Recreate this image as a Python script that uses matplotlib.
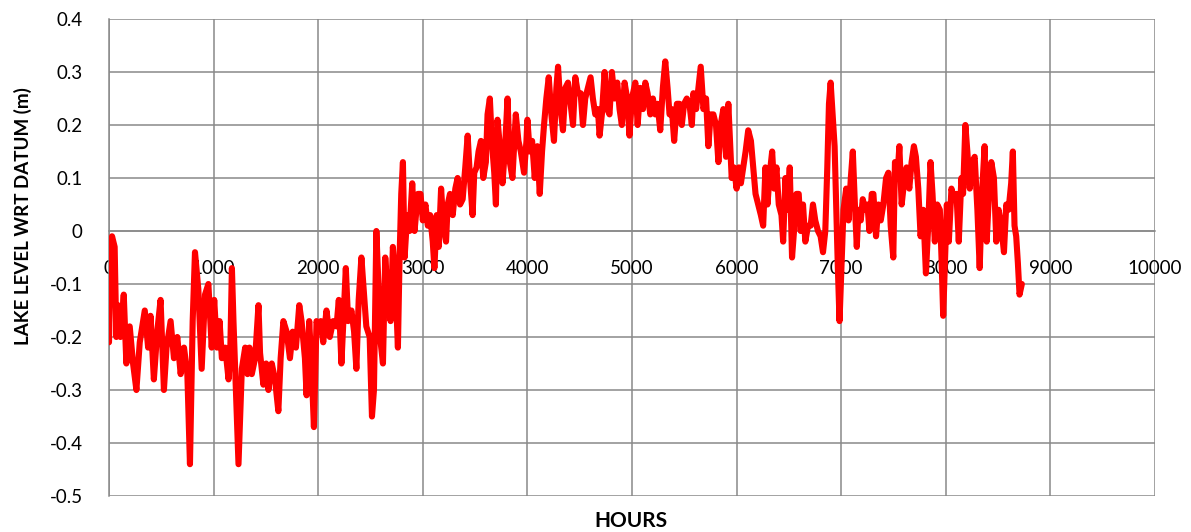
import matplotlib
matplotlib.use("Agg")
import matplotlib.pyplot as plt

plt.rcParams['font.family'] = ['Lato', 'DejaVu Sans']

# hourly lake level (hours, metres w.r.t. datum)
hours_a = [0, 15, 29, 54, 70, 86, 109, 141, 166, 198, 230, 262, 294, 342, 374, 397, 429, 461,
           493, 525, 550, 589, 621, 653, 685, 717, 749, 774, 800, 822, 854, 886, 918, 950, 982,
           1006, 1032, 1057, 1079, 1111, 1143, 1159, 1175, 1190, 1222, 1238, 1270, 1302, 1324,
           1343, 1365, 1397, 1429, 1444, 1476, 1502, 1524, 1556, 1587, 1619, 1641, 1667, 1698,
           1730, 1756, 1787, 1819, 1841, 1873, 1889, 1914, 1937, 1959, 1984]
level_a = [-0.21, -0.05, -0.01, -0.03, -0.20, -0.14, -0.20, -0.12, -0.25, -0.18, -0.25, -0.30,
           -0.21, -0.15, -0.22, -0.16, -0.28, -0.19, -0.13, -0.30, -0.22, -0.17, -0.24, -0.20,
           -0.27, -0.22, -0.27, -0.44, -0.17, -0.04, -0.11, -0.26, -0.12, -0.10, -0.22,
           -0.13, -0.22, -0.17, -0.24, -0.22, -0.28, -0.23, -0.07, -0.17, -0.35, -0.44, -0.26,
           -0.22, -0.27, -0.22, -0.27, -0.24, -0.14, -0.23, -0.29, -0.25, -0.30, -0.25, -0.28,
           -0.34, -0.24, -0.17, -0.19, -0.24, -0.19, -0.22, -0.14, -0.17, -0.24, -0.31, -0.17,
           -0.26, -0.37, -0.17]

hours_b = [2000, 2025, 2048, 2079, 2111, 2143, 2175, 2197, 2222, 2238, 2264, 2286, 2318, 2343,
           2365, 2387, 2413, 2438, 2460, 2492, 2514, 2533, 2556, 2578, 2597, 2619, 2641, 2667,
           2692, 2714, 2737, 2762, 2778, 2794, 2810, 2826, 2851, 2873, 2899, 2921, 2953, 2978,
           3000, 3025, 3048, 3070, 3095, 3111, 3133, 3152, 3175, 3197, 3222, 3238, 3260, 3286,
           3311, 3333, 3356, 3381, 3406, 3429, 3451, 3476, 3492, 3514, 3533, 3556, 3578, 3603,
           3619, 3641, 3660, 3683, 3699, 3714, 3737, 3762, 3787, 3810, 3832, 3857, 3889, 3914,
           3937, 3968, 3991]
level_b = [-0.18, -0.17, -0.21, -0.15, -0.20, -0.17, -0.18, -0.13, -0.25, -0.18, -0.07, -0.17,
           -0.15, -0.19, -0.26, -0.13, -0.05, -0.12, -0.18, -0.20, -0.35, -0.30, 0.00, -0.11,
           -0.21, -0.25, -0.05, -0.13, -0.17, -0.03, -0.09, -0.22, -0.05, 0.07, 0.13, -0.05,
           0.03, 0.00, 0.09, 0.00, 0.07, 0.07,
           0.02, 0.05, 0.01, 0.03, -0.02, -0.07, 0.03, -0.03, 0.08, 0.01, -0.02, 0.05, 0.07,
           0.03, 0.08, 0.10, 0.05, 0.06, 0.12, 0.18, 0.10, 0.03, 0.11, 0.12, 0.15, 0.17, 0.10,
           0.13, 0.22, 0.25, 0.17, 0.11, 0.05, 0.21, 0.16, 0.09, 0.16, 0.25, 0.13, 0.10, 0.22,
           0.17, 0.15, 0.11, 0.17]

hours_c = [4000, 4022, 4045, 4070, 4095, 4118, 4140, 4159, 4181, 4204, 4229, 4254, 4277, 4293,
           4318, 4340, 4363, 4388, 4413, 4436, 4458, 4483, 4509, 4531, 4553, 4579, 4604, 4626,
           4649, 4674, 4690, 4712, 4738, 4763, 4785, 4808, 4833, 4859, 4881, 4903, 4929, 4954,
           4976, 4999, 5010, 5032, 5054, 5079, 5105, 5127, 5149, 5175, 5200, 5222, 5244, 5270,
           5295, 5318, 5340, 5359, 5381, 5403, 5429, 5454, 5476, 5498, 5524, 5549, 5572, 5587,
           5613, 5635, 5657, 5683, 5708, 5730, 5752, 5778, 5803, 5826, 5848, 5873, 5899, 5921,
           5937, 5953, 5975]
level_c = [0.21, 0.15, 0.17, 0.10, 0.16, 0.07, 0.15, 0.20, 0.25, 0.29, 0.22, 0.17, 0.27, 0.31,
           0.23, 0.19, 0.27, 0.28, 0.24, 0.20, 0.29, 0.26, 0.26, 0.20, 0.25, 0.27, 0.29, 0.25,
           0.22, 0.23, 0.18, 0.22, 0.30, 0.23, 0.22, 0.30, 0.25, 0.28, 0.23, 0.20, 0.28, 0.25,
           0.18, 0.25, 0.26, 0.28, 0.20, 0.27, 0.23, 0.28, 0.26, 0.22, 0.25, 0.22, 0.24, 0.19,
           0.27, 0.32, 0.27, 0.22, 0.23, 0.17, 0.24, 0.24, 0.20, 0.24, 0.25, 0.24, 0.20, 0.26,
           0.23, 0.27, 0.31, 0.23, 0.25, 0.16, 0.22, 0.22, 0.20, 0.13, 0.20, 0.23, 0.14, 0.24,
           0.17, 0.10, 0.12]

hours_d = [6000, 6022, 6041, 6064, 6086, 6111, 6137, 6159, 6181, 6206, 6232, 6254, 6276, 6295,
           6318, 6340, 6359, 6381, 6403, 6429, 6445, 6467, 6486, 6508, 6530, 6549, 6572, 6594,
           6613, 6635, 6657, 6683, 6708, 6730, 6752, 6778, 6803, 6826, 6848, 6867, 6883, 6899,
           6921, 6937, 6953, 6968, 6984, 7022, 7048, 7070, 7092, 7111, 7133, 7149, 7165, 7187,
           7206, 7229, 7251, 7270, 7292, 7308, 7333, 7356, 7378, 7403, 7429, 7451, 7473, 7498,
           7514, 7537, 7556, 7578, 7600, 7625, 7651, 7673, 7695, 7714, 7737, 7759, 7784, 7810,
           7832, 7854, 7873, 7895, 7918, 7943, 7959, 7975]
level_d = [0.08, 0.12, 0.09, 0.12, 0.15, 0.19, 0.17, 0.12, 0.07, 0.05, 0.03, 0.01, 0.12, 0.05,
           0.11, 0.15, 0.08, 0.12, 0.05, 0.03, -0.02, 0.10, 0.04, 0.12, -0.05, 0.00, 0.07, 0.07,
           0.00, 0.05, -0.02, 0.01, 0.01, 0.05, 0.02, 0.00, -0.01, -0.04, 0.00, 0.12, 0.24, 0.28,
           0.21, 0.16, 0.04, -0.07, -0.17, 0.04, 0.08, 0.02, 0.10, 0.15, 0.04, -0.03, 0.04, 0.02,
           0.06, 0.04, 0.05, 0.00, 0.07, 0.07, -0.01, 0.05, 0.02, 0.05, 0.10, 0.11, 0.01, -0.05,
           0.13, 0.10, 0.16, 0.05, 0.09, 0.12, 0.08, 0.13, 0.16, 0.14, 0.08, -0.01, 0.04, -0.08,
           0.01, 0.13, 0.07, -0.02, 0.05, 0.04, -0.05, -0.16]

hours_e = [8000, 8010, 8029, 8054, 8079, 8102, 8124, 8149, 8165, 8187, 8206, 8229, 8251, 8276,
           8302, 8324, 8346, 8371, 8391, 8410, 8435, 8460, 8483, 8505, 8530, 8556, 8578, 8600,
           8625, 8641, 8657, 8673, 8689, 8705, 8727]
level_e = [-0.01, 0.05, -0.02, 0.08, 0.06, 0.07, -0.02, 0.10, 0.07, 0.20, 0.15, 0.08, 0.13, 0.14,
           0.04, -0.07, 0.07, 0.16, -0.02, 0.06, 0.13, 0.10, -0.02, 0.04, 0.01, -0.04, 0.05, 0.04,
           0.09, 0.15, 0.01, -0.01, -0.06, -0.12, -0.10]

hours = hours_a + hours_b + hours_c + hours_d + hours_e
level = level_a + level_b + level_c + level_d + level_e

x_ticks = list(range(0, 10001, 1000))
y_ticks = [-0.5, -0.4, -0.3, -0.2, -0.1, 0, 0.1, 0.2, 0.3, 0.4]
y_labels = ['-0.5', '-0.4', '-0.3', '-0.2', '-0.1', '0', '0.1', '0.2', '0.3', '0.4']

fig = plt.figure(figsize=(11.91, 5.32), dpi=100)
ax = fig.add_axes([109 / 1191, 1 - 496 / 532, 1046 / 1191, 477 / 532])

ax.plot(hours, level, color='#ff0000', lw=4.4, solid_joinstyle='round',
        solid_capstyle='round', zorder=3)

ax.set_xlim(0, 10000)
ax.set_ylim(-0.5, 0.4)
ax.set_xticks(x_ticks)
ax.set_yticks(y_ticks)
ax.set_yticklabels(y_labels)

grey = '#898989'
ax.grid(True, color=grey, lw=1.1)
ax.set_axisbelow(True)
for s in ['top', 'right']:
    ax.spines[s].set_visible(False)
ax.spines['left'].set_color(grey)
ax.spines['left'].set_linewidth(1.1)
ax.spines['bottom'].set_position(('data', 0))
ax.spines['bottom'].set_color(grey)
ax.spines['bottom'].set_linewidth(1.1)

ax.tick_params(axis='y', length=0, pad=19, labelsize=13.5)
ax.tick_params(axis='x', length=0, pad=21, labelsize=13.5)

ax.set_ylabel('LAKE LEVEL WRT DATUM (m)', fontsize=13.5, fontweight='bold')
ax.yaxis.set_label_coords(-0.0736, 0.587)
ax.set_xlabel('HOURS', fontsize=15, fontweight='bold')
ax.xaxis.set_label_coords(0.499, -0.031)

fig.savefig('out.png', dpi=100)
